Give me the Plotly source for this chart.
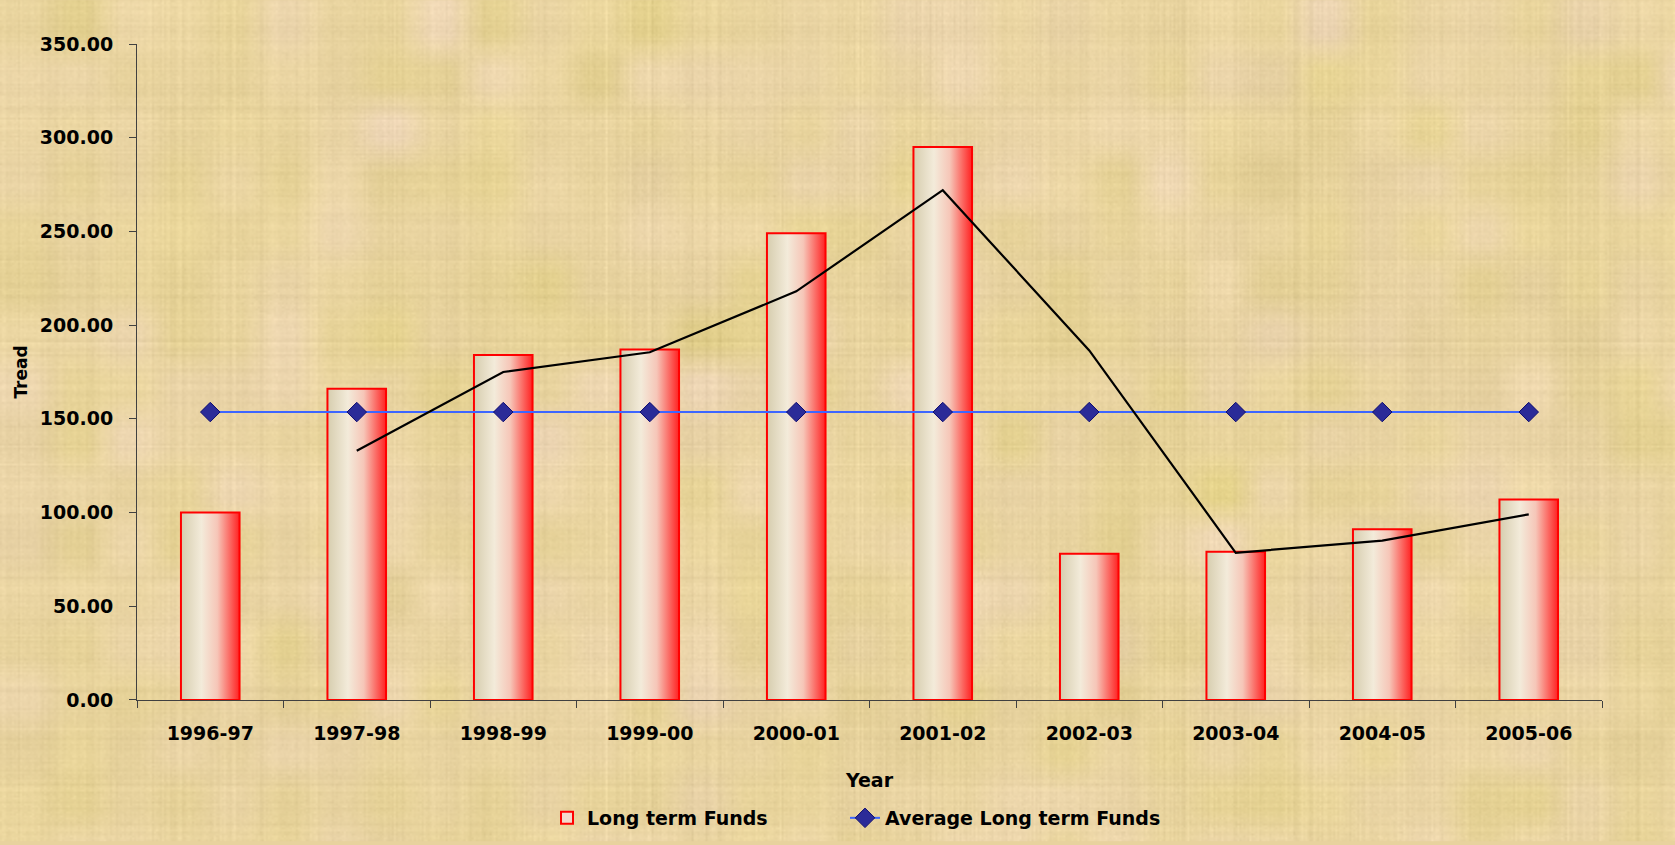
import base64
import struct
import zlib

import numpy as np
import plotly.graph_objects as go

# Long term funds trend index by financial year
years = ["1996-97", "1997-98", "1998-99", "1999-00", "2000-01",
         "2001-02", "2002-03", "2003-04", "2004-05", "2005-06"]
long_term_funds = [100, 166, 184, 187, 249, 295, 78, 79, 91, 107]
y_ticks = [0, 50, 100, 150, 200, 250, 300, 350]

# Derived series: overall average and a 2-period moving average trendline
average_funds = sum(long_term_funds) / len(long_term_funds)
average_series = [average_funds] * len(years)
moving_avg = [(long_term_funds[i - 1] + long_term_funds[i]) / 2
              for i in range(1, len(long_term_funds))]

FONT = "DejaVu Sans"
BG = "#E8D29E"
BAR_WIDTH = 0.40
bar_scale = [[0.0, "#d6cdae"], [0.35, "#f3ebda"], [0.62, "#f6c6b8"], [1.0, "#ff2222"]]

W_PX, H_PX = 1675, 845
MARGIN = dict(l=137, r=73, t=44, b=142)


def _box_blur(a, r):
    """Separable box blur with edge padding."""
    for axis in (0, 1):
        p = np.pad(a, [(r + 1, r) if ax == axis else (0, 0) for ax in (0, 1)], mode="edge")
        c = np.cumsum(p, axis=axis)
        if axis == 0:
            a = (c[2 * r + 1:, :] - c[:-2 * r - 1, :]) / (2 * r + 1)
        else:
            a = (c[:, 2 * r + 1:] - c[:, :-2 * r - 1]) / (2 * r + 1)
    return a


def papyrus_png(w, h, seed=11):
    """Build a soft woven-paper texture and return it as a PNG data URI."""
    rng = np.random.default_rng(seed)
    cols = rng.normal(0, 1, w)
    rows = rng.normal(0, 1, h)
    fine = 0.6 * cols[None, :] + 0.5 * rows[:, None] + 0.45 * rng.normal(0, 1, (h, w))
    cell = 26
    blk = rng.normal(0, 1, (h // cell + 2, w // cell + 2))
    blk = _box_blur(np.kron(blk, np.ones((cell, cell)))[:h, :w], 5)
    hue = rng.normal(0, 1, (h // cell + 2, w // cell + 2))
    hue = _box_blur(np.kron(hue, np.ones((cell, cell)))[:h, :w], 8)
    light = 0.7 * fine + 0.3 * blk
    light = light / light.std()
    base = np.array([233.0, 212.0, 160.0])
    pink = np.array([2.0, 1.0, 8.0])
    img = (base[None, None, :] + 4.0 * light[:, :, None]
           + 0.9 * hue[:, :, None] * pink[None, None, :])
    img = np.clip(img, 0, 255).astype(np.uint8)
    raw = b"".join(b"\x00" + img[r].tobytes() for r in range(h))

    def chunk(tag, data):
        c = struct.pack(">I", len(data)) + tag + data
        return c + struct.pack(">I", zlib.crc32(tag + data) & 0xFFFFFFFF)

    png = (b"\x89PNG\r\n\x1a\n"
           + chunk(b"IHDR", struct.pack(">IIBBBBB", w, h, 8, 2, 0, 0, 0))
           + chunk(b"IDAT", zlib.compress(raw, 9))
           + chunk(b"IEND", b""))
    return "data:image/png;base64," + base64.b64encode(png).decode("ascii")


fig = go.Figure()

# Bars drawn as filled rectangles so each can carry a horizontal gradient
for i, v in enumerate(long_term_funds):
    x0, x1 = i - BAR_WIDTH / 2, i + BAR_WIDTH / 2
    fig.add_trace(go.Scatter(
        x=[x0, x0, x1, x1, x0],
        y=[0, v, v, 0, 0],
        mode="lines",
        fill="toself",
        fillgradient=dict(type="horizontal", colorscale=bar_scale),
        line=dict(color="#ff0000", width=2),
        name="Long term Funds",
        legendgroup="funds",
        showlegend=False,
        hoverinfo="text",
        text=f"{years[i]}: {v:.2f}",
    ))

# Legend entry for the bars
fig.add_trace(go.Bar(
    x=[None], y=[None],
    name="Long term Funds",
    legendgroup="funds",
    legend="legend",
    marker=dict(color="#f3d9cc", line=dict(color="#ff0000", width=2)),
))

fig.add_trace(go.Scatter(
    x=list(range(len(years))),
    y=average_series,
    mode="lines+markers",
    name="Average Long term Funds",
    legend="legend2",
    line=dict(color="#3d66ff", width=2),
    marker=dict(symbol="diamond", size=15, color="#2b2b98",
                line=dict(color="#0c0c70", width=1)),
))

fig.add_trace(go.Scatter(
    x=list(range(1, len(years))),
    y=moving_avg,
    mode="lines",
    name="2 per. Mov. Avg.",
    line=dict(color="#000000", width=2.2),
    showlegend=False,
))

plot_w = W_PX - MARGIN["l"] - MARGIN["r"]
plot_h = H_PX - MARGIN["t"] - MARGIN["b"]

legend_common = dict(
    orientation="h",
    xref="container", yref="container",
    xanchor="left", yanchor="middle",
    y=1 - 818 / H_PX,
    font=dict(family=FONT, size=19, weight="bold"),
    bgcolor="rgba(0,0,0,0)",
)

fig.update_layout(
    width=W_PX,
    height=H_PX,
    paper_bgcolor=BG,
    plot_bgcolor="rgba(0,0,0,0)",
    margin=MARGIN,
    font=dict(family=FONT, color="#000000"),
    images=[dict(
        source=papyrus_png(838, 423),
        xref="paper", yref="paper",
        x=-MARGIN["l"] / plot_w, y=1 + MARGIN["t"] / plot_h,
        sizex=W_PX / plot_w, sizey=H_PX / plot_h,
        xanchor="left", yanchor="top",
        sizing="stretch", layer="below",
    )],
    legend=dict(legend_common, x=(587 - 40) / W_PX),
    legend2=dict(legend_common, x=(885 - 40) / W_PX),
    xaxis=dict(
        range=[-0.5, len(years) - 0.5],
        tickmode="array",
        tickvals=list(range(len(years))),
        ticktext=years,
        ticks="",
        ticklabelstandoff=16,
        tickfont=dict(family=FONT, size=19, weight="bold"),
        showgrid=False,
        zeroline=False,
        showline=True,
        linecolor="#404040",
        linewidth=1,
        minor=dict(
            tickmode="array",
            tickvals=[i - 0.5 for i in range(len(years) + 1)],
            ticks="outside",
            ticklen=7,
            tickcolor="#404040",
            showgrid=False,
        ),
        title=dict(text="Year", standoff=30,
                   font=dict(family=FONT, size=19, weight="bold")),
    ),
    yaxis=dict(
        range=[0, 350],
        tickmode="array",
        tickvals=y_ticks,
        ticktext=[f"{t:.2f}" for t in y_ticks],
        ticks="outside",
        ticklen=7,
        tickcolor="#404040",
        ticklabelstandoff=12,
        tickfont=dict(family=FONT, size=19, weight="bold"),
        showgrid=False,
        zeroline=False,
        showline=True,
        linecolor="#404040",
        linewidth=1,
        title=dict(text="Tread", standoff=7,
                   font=dict(family=FONT, size=17, weight="bold")),
    ),
)

fig.write_html("out.html")
